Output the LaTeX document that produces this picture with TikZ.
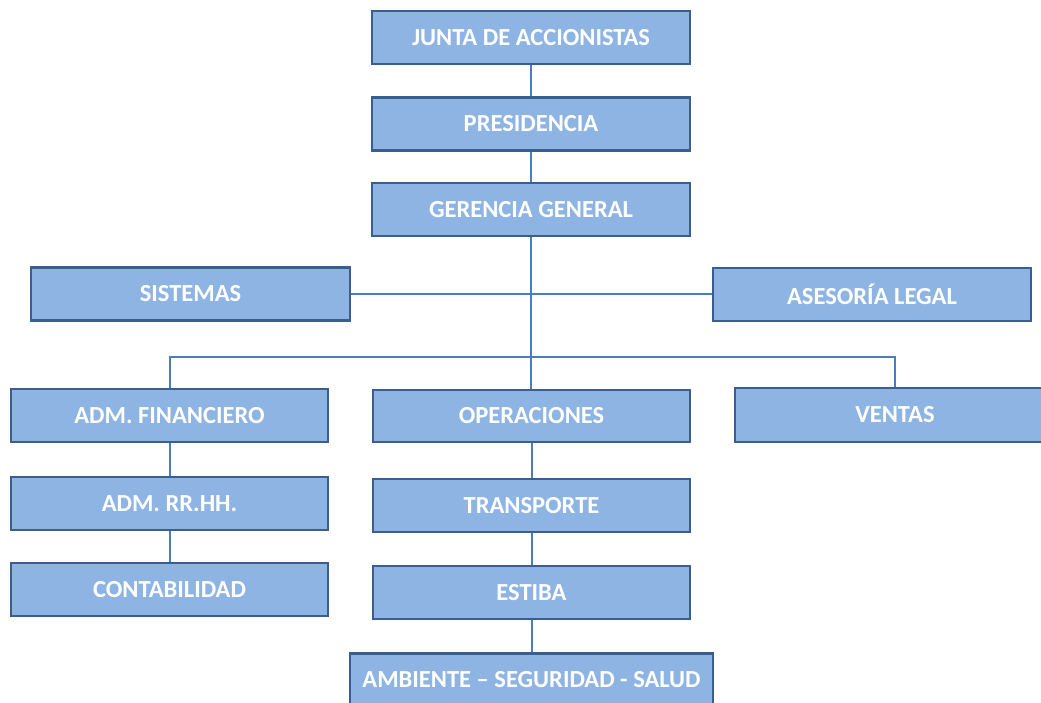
\documentclass[tikz,border=0pt]{standalone}
\usepackage{fontspec}
\setmainfont{Carlito}
\usetikzlibrary{backgrounds}
\definecolor{boxfill}{HTML}{8EB4E3}
\definecolor{boxline}{HTML}{3A5F8F}
\definecolor{conn}{HTML}{4A7EBB}
\begin{document}
\begin{tikzpicture}[x=1pt,y=-1pt,
  orgbox/.style={draw=boxline, fill=boxfill, line width=2.5pt, inner sep=0pt,
    minimum width=318pt, minimum height=53pt, text=white,
    font=\fontsize{24.5}{28}\selectfont\bfseries},
  link/.style={draw=conn, line width=2pt}]
\useasboundingbox (0,0) rectangle (1041,702);
\clip (0,0) rectangle (1041,702);
\node[orgbox] (junta) at (531,37.5) {JUNTA DE ACCIONISTAS};
\node[orgbox] (pres) at (531,124) {PRESIDENCIA};
\node[orgbox] (ger) at (531,209.5) {GERENCIA GENERAL};
\node[orgbox, minimum width=319pt] (sis) at (190.5,294) {SISTEMAS};
\node[orgbox] (ase) at (872,294.5) {ASESORÍA LEGAL};
\node[orgbox, minimum width=317pt] (fin) at (169.5,415.5) {ADM. FINANCIERO};
\node[orgbox, minimum width=317pt, minimum height=52pt] (ope) at (531.5,416) {OPERACIONES};
\node[orgbox, minimum width=320pt, minimum height=54pt] (ven) at (895,415) {VENTAS};
\node[orgbox, minimum width=317pt] (rrhh) at (169.5,503.5) {ADM. RR.HH.};
\node[orgbox, minimum width=317pt] (cont) at (169.5,589.5) {CONTABILIDAD};
\node[orgbox, minimum width=317pt] (tra) at (531.5,505.5) {TRANSPORTE};
\node[orgbox, minimum width=317pt] (est) at (531.5,592.5) {ESTIBA};
\node[orgbox, minimum width=363pt] (amb) at (531.5,680) {AMBIENTE – SEGURIDAD - SALUD};
\coordinate (busc) at (531,357);
\begin{scope}[on background layer]
\path[link] (junta.south) -- (pres.north);
\path[link] (pres.south) -- (ger.north);
\path[link] (ger.south) -- (ger.south |- ope.north);
\path[link] (sis.east) -- (sis.east -| ase.west);
\path[link] (fin.north) |- (busc) -| (ven.north);
\path[link] (fin.south) -- (rrhh.north);
\path[link] (rrhh.south) -- (cont.north);
\path[link] (ope.south) -- (tra.north);
\path[link] (tra.south) -- (est.north);
\path[link] (est.south) -- (amb.north);
\end{scope}
\end{tikzpicture}
\end{document}
